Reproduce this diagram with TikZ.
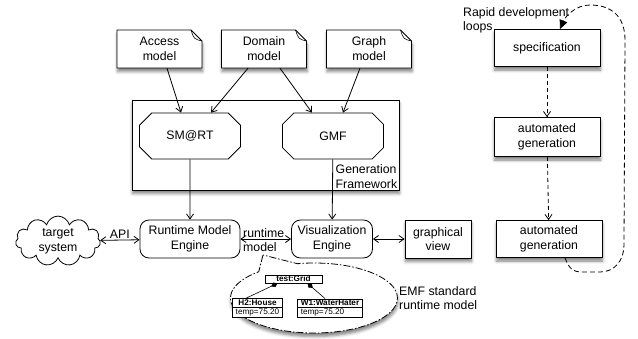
\documentclass[tikz,border=0pt]{standalone}
\usepackage{fontspec}
\setmainfont{Liberation Sans}
\usetikzlibrary{shapes.misc,shapes.symbols,shapes.callouts,shapes.multipart,arrows.meta,shadows.blur}

\begin{document}
\begin{tikzpicture}[x=1pt,y=-1pt]
    % ==========================
    % 設定
    % ==========================
    \def\fold{11} % 角の折り返し
    \tikzset{
        every node/.style={font=\fontsize{12.3}{14.8}\selectfont}, % 本文の大きさ
        line/.style={line width=0.8pt},
        arr/.style={line, -{Straight Barb[length=5pt,width=7pt]}},
        darr/.style={line, {Straight Barb[length=5pt,width=7pt]}-{Straight Barb[length=5pt,width=7pt]}},
        dasharr/.style={arr, dash pattern=on 4pt off 3pt},
        shade/.style={blur shadow={shadow xshift=0.5pt, shadow yshift=-3.5pt, shadow blur radius=3pt, shadow opacity=50}},
        note/.style={align=center, minimum width=85pt, minimum height=38pt, inner sep=0pt},
        octo/.style={draw, line, fill=white, chamfered rectangle, chamfered rectangle sep=7pt, minimum width=101pt, minimum height=46pt, inner sep=0pt},
        engine/.style={draw, line, fill=white, rounded corners=9pt, align=center, minimum height=38pt, inner sep=0pt},
        devbox/.style={draw, line, fill=white, shade, align=center, minimum width=106pt, minimum height=37pt},
        umlobj/.style={draw, line width=0.6pt, fill=white, font=\fontsize{8.2}{9.8}\selectfont, inner xsep=3pt, inner ysep=1pt},
        umlsplit/.style={umlobj, rectangle split, rectangle split parts=2, rectangle split part align={center,left}},
        comp/.style={line width=0.6pt, -{Diamond[length=7pt,width=5pt]}}
    }
    \useasboundingbox (0,0) rectangle (638,338);

    % ==========================
    % 1. モデル (ノート)
    % ==========================
    \foreach \n/\x/\t in {access/159.5/Access, domain/264/Domain, graph/369/Graph}{
        % 角を折った紙
        \filldraw[line, fill=white, shade] ({\x-42.5},30) -- ({\x+42.5-\fold},30) -- ({\x+42.5},{30+\fold})
            -- ({\x+42.5},68) -- ({\x-42.5},68) -- cycle;
        \draw[line width=0.6pt] ({\x+42.5-\fold},30) .. controls ({\x+34.5},39) .. ({\x+42.5},{30+\fold});
        \node[note] (\n) at (\x,49) {\t\\model};
    }

    % ==========================
    % 2. 生成フレームワーク
    % ==========================
    \node[draw, line, fill=white, shade, minimum width=267pt, minimum height=90pt] (frame) at (265.5,145) {};
    \node[align=left, anchor=south east, inner sep=2pt] (genlabel) at (frame.south east) {Generation\\Framework};
    \node[octo] (smart) at (190,136) {SM@RT};
    \node[octo] (gmf) at (333,136) {GMF};

    % ==========================
    % 3. 実行時
    % ==========================
    \node[cloud, draw, line, fill=white, cloud puffs=11, aspect=2, minimum width=85pt, minimum height=44pt, inner sep=0pt, align=center] (target) at (58,241) {target\\system};
    \node[engine, minimum width=100pt] (rme) at (190,239) {Runtime Model\\Engine};
    \node[engine, minimum width=81pt] (ve) at (332,239) {Visualization\\Engine};
    \node[draw, line, fill=white, shade, align=center, minimum width=66pt, minimum height=38pt, inner sep=0pt] (view) at (438,239) {graphical\\view};

    % ==========================
    % 4. EMF ランタイムモデル (吹き出し)
    % ==========================
    \coordinate (tip) at (263,255);
    \node[ellipse callout, draw, line, fill=white, shade, dash pattern=on 7pt off 2pt on 1.5pt off 2pt,
        callout absolute pointer={(tip)}, callout pointer arc=30,
        minimum width=167pt, minimum height=70pt, inner sep=0pt] (emf) at (314,298) {};
    \node[umlobj, font=\fontsize{8.2}{9.8}\selectfont\bfseries, minimum width=57pt] (grid) at (293.5,279) {test:Grid};
    \node[umlsplit] (house) at (257.5,308) {\textbf{H2:House}\nodepart{two}temp=75.20};
    \node[umlsplit] (heater) at (330,308) {\textbf{W1:WaterHater}\nodepart{two}temp=75.20};
    \draw[comp] ([xshift=-12pt]house.north) -- ([xshift=-16pt]grid.south);
    \draw[comp] ([xshift=-5pt]heater.north) -- ([xshift=14pt]grid.south);
    \node[align=left, anchor=west, inner sep=0pt] (emftext) at (399,298) {EMF standard\\runtime model};

    % ==========================
    % 5. 接続
    % ==========================
    \draw[arr] ([xshift=7.5pt]access.south) -- ([xshift=-9pt]smart.north);
    \draw[arr] ([xshift=-16pt]domain.south) -- ([xshift=21pt]smart.north);
    \draw[arr] ([xshift=16pt]domain.south) -- ([xshift=-21pt]gmf.north);
    \draw[arr] ([xshift=-9pt]graph.south) -- ([xshift=10pt]gmf.north);
    \draw[arr] (smart) -- (rme);
    \draw[arr] (gmf) -- (ve);
    \draw[darr] (target) -- (rme) node[midway, above, inner sep=1.5pt] (api) {API};
    \draw[darr] (rme) -- (ve);
    \node[align=left, anchor=west, inner sep=0pt] (rtm) at (243,240) {runtime\\model};
    \draw[darr] (ve) -- (view);

    % ==========================
    % 6. 開発ループ
    % ==========================
    \node[devbox] (spec) at (547,48) {specification};
    \node[devbox, minimum height=39pt] (gen1) at (547,137) {automated\\generation};
    \node[devbox] (gen2) at (549,239) {automated\\generation};
    \draw[dasharr] (spec) -- (gen1);
    \draw[dasharr] (gen1) -- (gen2);
    \node[align=left, anchor=north west, inner sep=0pt] (rapid) at (463,7) {Rapid development\\loops};
    \draw[line, dash pattern=on 5pt off 3pt, -{Triangle[length=9pt,width=8pt]}] ([xshift=16pt]gen2.south)
        .. controls +(4,10) and +(-10,0) .. (582,272) -- (600,272)
        .. controls +(15,0) and +(0,15) .. (624,245) -- (625,40)
        .. controls +(0,-25) and +(20,0) .. (590,5)
        .. controls +(-15,0) and +(5,-12) .. ([xshift=13pt]spec.north);

\end{tikzpicture}
\end{document}
